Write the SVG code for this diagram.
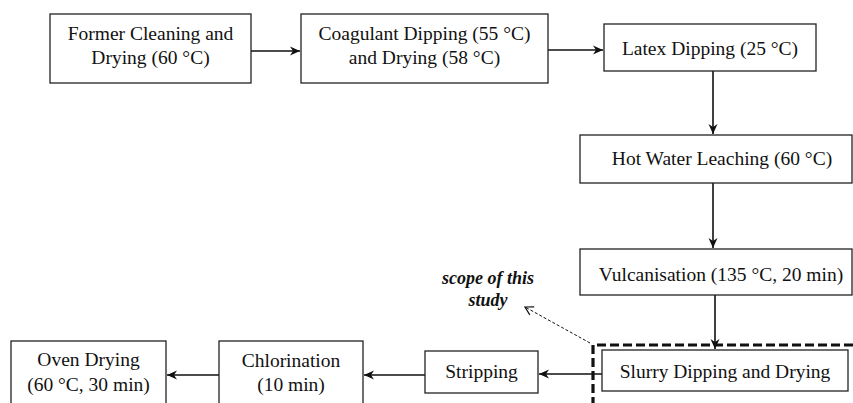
<svg xmlns="http://www.w3.org/2000/svg" width="853" height="403" viewBox="0 0 853 403">
<defs>
<style>
.box{fill:#fff;stroke:#222;stroke-width:1.3}
.t{font-family:"Liberation Serif","Times New Roman",serif;font-size:19.5px;fill:#111;text-anchor:middle}
.n{font-family:"Liberation Serif","Times New Roman",serif;font-size:18px;font-weight:bold;font-style:italic;fill:#111;text-anchor:middle}
.c{stroke:#111;stroke-width:1.6;fill:none;marker-end:url(#ah)}
.d{stroke:#111;stroke-width:1;fill:none;stroke-dasharray:3 2;marker-end:url(#oh)}
.scope{stroke:#111;stroke-width:3.2;fill:none;stroke-dasharray:9 4}
</style>
<marker id="ah" markerWidth="12" markerHeight="12" viewBox="0 0 12 12" refX="11" refY="6" orient="auto" markerUnits="userSpaceOnUse">
<path d="M1,1.5 L11,6 L1,10.5 L4,6 z" fill="#111"/>
</marker>
<marker id="oh" markerWidth="12" markerHeight="12" viewBox="0 0 12 12" refX="11" refY="6" orient="auto" markerUnits="userSpaceOnUse">
<path d="M3,1.5 L11,6 L3,10.5" fill="none" stroke="#111" stroke-width="1.2"/>
</marker>
</defs>
<g id="connectors">
<line class="c" x1="251" y1="51" x2="300" y2="51"/>
<line class="c" x1="548" y1="50" x2="603" y2="50"/>
<line class="c" x1="713" y1="71" x2="713" y2="134"/>
<line class="c" x1="713" y1="183" x2="713" y2="248"/>
<line class="c" x1="715" y1="295" x2="715" y2="349"/>
<line class="c" x1="602" y1="374" x2="539" y2="374"/>
<line class="c" x1="425" y1="375" x2="364" y2="375"/>
<line class="c" x1="219" y1="375" x2="167" y2="375"/>
<line class="d" x1="590" y1="343" x2="525" y2="307"/>
</g>
<g id="scope">
<path class="scope" d="M853,345 L593,345 L593,403"/>
<text class="n" x="488" y="284">scope of this</text>
<text class="n" x="488" y="306">study</text>
</g>
<g id="former">
<rect class="box" x="50" y="14" width="201" height="69"/>
<text class="t" x="150.5" y="40">Former Cleaning and</text>
<text class="t" x="150.5" y="64">Drying (60 °C)</text>
</g>
<g id="coagulant">
<rect class="box" x="301" y="14" width="247" height="69"/>
<text class="t" x="424.5" y="40">Coagulant Dipping (55 °C)</text>
<text class="t" x="424.5" y="64">and Drying (58 °C)</text>
</g>
<g id="latex">
<rect class="box" x="604" y="24" width="212" height="47"/>
<text class="t" x="710" y="55">Latex Dipping (25 °C)</text>
</g>
<g id="hotwater">
<rect class="box" x="580" y="135" width="272" height="48"/>
<text class="t" x="722" y="165">Hot Water Leaching (60 °C)</text>
</g>
<g id="vulcanisation">
<rect class="box" x="580" y="249" width="272" height="46"/>
<text class="t" x="721" y="281">Vulcanisation (135 °C, 20 min)</text>
</g>
<g id="slurry">
<rect class="box" x="602" y="350" width="246" height="41"/>
<text class="t" x="725" y="378">Slurry Dipping and Drying</text>
</g>
<g id="stripping">
<rect class="box" x="425" y="351" width="113" height="42"/>
<text class="t" x="481.5" y="378">Stripping</text>
</g>
<g id="chlorination">
<rect class="box" x="219" y="341" width="144" height="70"/>
<text class="t" x="291" y="367">Chlorination</text>
<text class="t" x="291" y="391">(10 min)</text>
</g>
<g id="oven">
<rect class="box" x="11" y="341" width="155" height="70"/>
<text class="t" x="88.5" y="366">Oven Drying</text>
<text class="t" x="88.5" y="391">(60 °C, 30 min)</text>
</g>
</svg>
